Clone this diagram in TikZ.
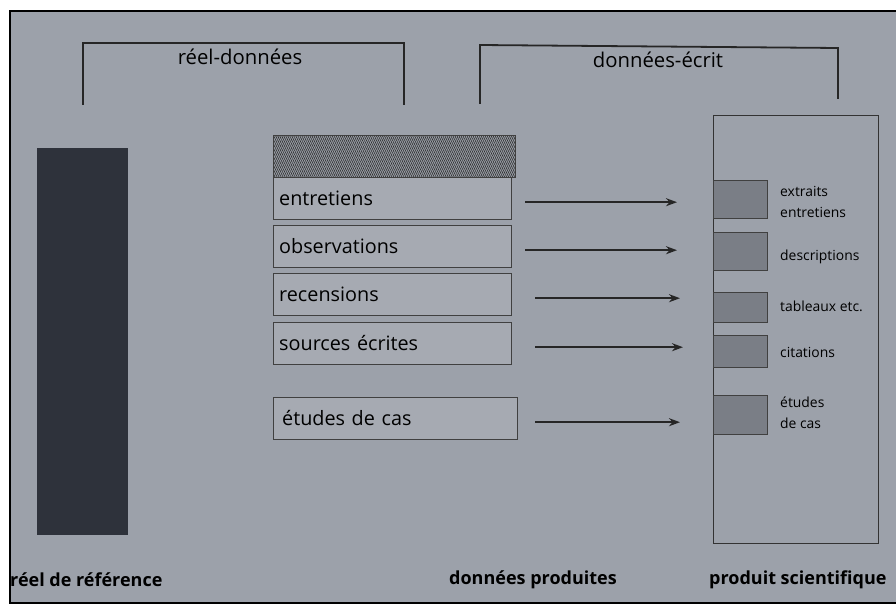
\documentclass[tikz,border=0pt]{standalone}
\usepackage{fontspec}
\setmainfont{Open Sans}
\usetikzlibrary{arrows.meta, patterns.meta, positioning}
\definecolor{page}{RGB}{156,161,170}
\definecolor{bar}{RGB}{46,50,59}
\definecolor{chip}{RGB}{122,126,134}

\begin{document}
\begin{tikzpicture}[
	x = 1pt, y = -1pt,
	every node/.style = {inner sep = 0pt},
	bigfont/.style = {font = \fontsize{19.8}{21}\selectfont},
	headfont/.style = {font = \fontsize{20.3}{22}\selectfont},
	smallfont/.style = {font = \fontsize{13.9}{21}\selectfont},
	source/.style = {bigfont, draw = black!75, fill = page!90!white, minimum height = 42pt,
		minimum width = 238pt, text width = 226pt, inner xsep = 6pt, align = left, anchor = north west},
	chipbox/.style = {draw = black!75, fill = chip, minimum width = 54pt, anchor = north west},
	chiplabel/.style = {smallfont, align = left, anchor = west},
	flow/.style = {-{Stealth[length = 11pt, width = 8pt]}, line width = 1.9pt, black!85},
	bracket/.style = {line width = 1.8pt, black!85},
	footer/.style = {font = \fontsize{18}{20}\selectfont\bfseries, anchor = west}
]

\useasboundingbox (0, 0) rectangle (896, 607);
\fill[white] (0, 0) rectangle (896, 607);
\fill[page] (10, 11) rectangle (896, 603);
\draw[line width = 1.2pt] (896, 11) -- (10, 11) -- (10, 603) -- (896, 603);

% brackets
\draw[bracket] (83, 105) -- (83, 43) -- (404, 43) -- (404, 105);
\node[headfont] (rd) at (240, 57) {réel-données};
\draw[bracket] (480, 104) -- (480, 45) -- (838, 48) -- (838, 99);
\node[headfont] (de) at (658, 60) {données-écrit};

% real
\fill[bar] (37, 148) rectangle (128, 535);

% data
\draw[black!75, pattern = {Lines[angle = 65, distance = 1.8pt, line width = 0.7pt]}, pattern color = black!80]
	(273, 135) rectangle (515, 177);
\node[source] (ent) at (273, 177) {entretiens};
\node[source] (obs) at (273, 225) {observations};
\node[source] (rec) at (273, 273) {recensions};
\node[source] (src) at (273, 322) {sources écrites};
\node[source, minimum width = 244pt] (cas) at (273, 397) {études de cas};

% product
\draw[black!80, thick] (713, 543) -- (713, 115) -- (878, 115) -- (878, 543) -- cycle;
\node[chipbox, minimum height = 38pt] (c1) at (713, 180) {};
\node[chipbox, minimum height = 38pt] (c2) at (713, 232) {};
\node[chipbox, minimum height = 30pt] (c3) at (713, 292) {};
\node[chipbox, minimum height = 32pt] (c4) at (713, 335) {};
\node[chipbox, minimum height = 39pt] (c5) at (713, 395) {};
\node[chiplabel] (l1) at (780, 202) {extraits\\entretiens};
\node[chiplabel] (l2) at (780, 257) {descriptions};
\node[chiplabel] (l3) at (780, 306) {tableaux etc.};
\node[chiplabel] (l4) at (780, 352) {citations};
\node[chiplabel] (l5) at (780, 413) {études\\de cas};

\foreach \a/\b/\s/\e in {ent/c1/14/36, obs/c2/14/36, rec/c3/24/33, src/c4/24/30, cas/c5/18/33} {
	\draw[flow, shorten < = \s pt, shorten > = \e pt] ([yshift = -4pt]\a.east) -- ([yshift = -4pt]\a.east -| \b.west);
}

% footers
\node[footer] (f1) at (10, 580) {réel de référence};
\node[footer] (f2) at (449, 580) {données produites};
\node[footer] (f3) at (709, 580) {produit scientifique};
\end{tikzpicture}
\end{document}
